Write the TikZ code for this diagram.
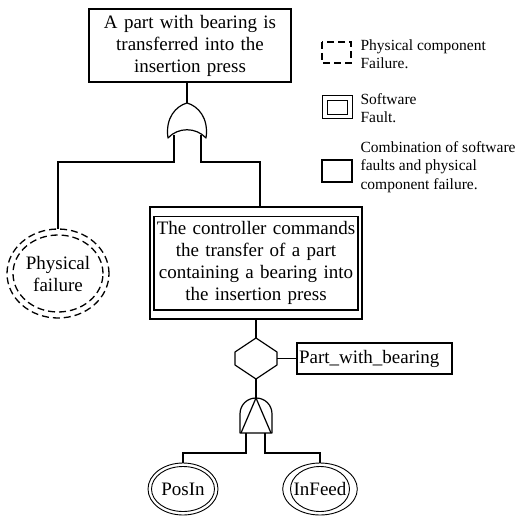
\documentclass[tikz,border=0pt]{standalone}
\usepackage{fontspec}
\setmainfont{Liberation Serif}
\usetikzlibrary{shapes.geometric}
\begin{document}
\begin{tikzpicture}[x=1pt,y=-1pt,
  line width=1.2pt,
  box/.style={draw, rectangle, inner sep=0pt, align=center, font=\fontsize{19}{22}\selectfont},
  evt/.style={draw, ellipse, inner sep=0pt, line width=0.9pt, font=\fontsize{19}{22}\selectfont, align=center},
  lbl/.style={anchor=west, align=left, inner sep=0pt, font=\fontsize{15.5}{18.5}\selectfont},
  dsh/.style={dash pattern=on 7pt off 4pt},
  gate/.style={line width=1.2pt, line join=round}]
\useasboundingbox (0,0) rectangle (521,527);

% top event
\node[box, minimum width=202pt, minimum height=73pt, text width=198pt] (top) at (190,45.5)
  {A part with bearing is\\transferred into the\\insertion press};

% legend
\draw[dsh, line width=1.2pt] (322,42) rectangle (351,63);
\node[lbl] (lg1) at (360,54) {Physical component\\Failure.};
\draw[line width=1pt] (322,95) rectangle (352,118);
\draw[line width=1pt] (327,100) rectangle (347,114);
\node[lbl] (lg2) at (360,108) {Software\\Fault.};
\draw[line width=1.2pt] (322,160) rectangle (352,182);
\node[lbl] (lg3) at (360,167) {Combination of software\\faults and physical\\component failure.};

% OR gate
\coordinate (orT) at (187,103);
\coordinate (orL) at (174,134.5);
\coordinate (orR) at (201,134.5);
\draw[gate] (168,138) .. controls (165,118) and (176,106) .. (orT)
  .. controls (198,106) and (209,118) .. (206,138)
  .. controls (196,127) and (178,127) .. cycle;
\draw (orT |- top.south) -- (orT);

% physical failure
\node[evt, draw=none, minimum width=102pt, minimum height=89pt] (phys) at (58,273.5) {Physical\\failure};
\draw[dsh, line width=1.3pt] (phys.center) ellipse [x radius=51pt, y radius=44.5pt];
\draw[dsh, line width=1.3pt] (phys.center) ellipse [x radius=45pt, y radius=38.5pt];

% software box
\node[box, minimum width=212pt, minimum height=112pt, text width=206pt] (sw) at (256,263)
  {The controller commands\\the transfer of a part\\containing a bearing into\\the insertion press};
\draw (154,216.5) rectangle (358,310);

\coordinate (jL) at (0,162);
\draw (orL) -- (orL |- jL) -| (phys.north);
\draw (orR) -- (orR |- jL) -| ([xshift=4pt]sw.north);

% hexagon
\coordinate (hT) at (256,338);
\coordinate (hB) at (256,379);
\coordinate (hR) at (277,358.5);
\draw[gate] (hT) -- (277,352) -- (hR) -- (277,365) -- (hB) -- (235,365) -- (235,352) -- cycle;
\draw (sw.south) -- (hT);

% condition box
\node[box, minimum width=155pt, minimum height=31pt, text width=151pt, align=left] (pwb) at (374.5,358.5) {Part\_with\_bearing};
\draw (hR) -- (pwb.west);

% AND gate
\coordinate (aT) at (256,398);
\coordinate (aL) at (246,433);
\coordinate (aR) at (265,433);
\draw[gate] (240,433) -- (240,414) .. controls (240,405) and (247,398) .. (aT)
  .. controls (265,398) and (272,405) .. (272,414) -- (272,433) -- cycle;
\draw[gate] (241,433) -- (aT) -- (271,433);
\draw (hB) -- (aT);

% basic events
\node[evt, minimum width=70pt, minimum height=52pt] (posin) at (183,489) {PosIn};
\draw[line width=0.9pt] (posin.center) ellipse [x radius=31.5pt, y radius=22.5pt];
\node[evt, minimum width=66pt, minimum height=52pt] (infeed) at (320,489) {InFeed};
\draw[line width=0.9pt] (infeed.center) ellipse [x radius=29.5pt, y radius=22.5pt];

\coordinate (jA) at (0,453);
\draw (aL) -- (aL |- jA) -| (posin.north);
\draw (aR) -- (aR |- jA) -| (infeed.north);
\end{tikzpicture}
\end{document}
